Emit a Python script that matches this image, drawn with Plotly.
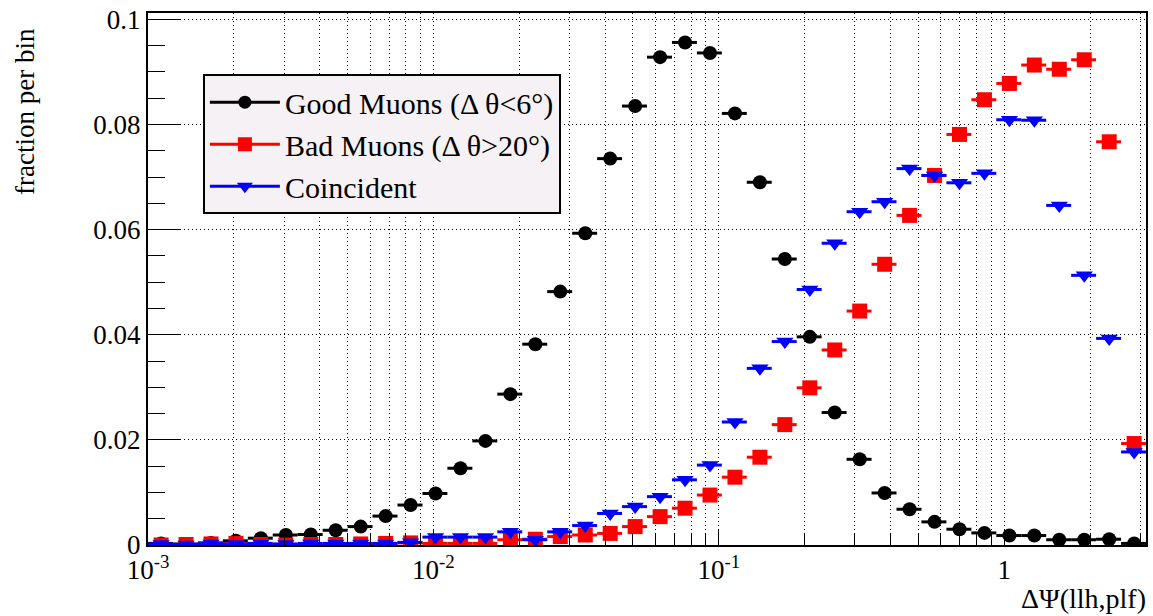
import numpy as np
import plotly.graph_objects as go

# ---- data (fraction per bin), 40 log-spaced bins from 1e-3 to pi ----
n_bins = 40
x_low_edge = 1e-3
x_high_edge = np.pi

good_muons = [0.0003, 0.0002, 0.0004, 0.0008, 0.0013, 0.0019, 0.0020, 0.0028, 0.0035, 0.0055,
              0.0076, 0.0098, 0.0146, 0.0198, 0.0287, 0.0382, 0.0482, 0.0593, 0.0735, 0.0835,
              0.0928, 0.0956, 0.0936, 0.0821, 0.0690, 0.0544, 0.0396, 0.0252, 0.0163, 0.0099,
              0.0068, 0.0044, 0.0030, 0.0023, 0.0018, 0.0018, 0.0010, 0.0010, 0.0011, 0.0003]

bad_muons = [0.0000, 0.0001, 0.0002, 0.0003, 0.0001, 0.0000, 0.0001, 0.0001, 0.0002, 0.0003,
             0.0004, 0.0003, 0.0003, 0.0003, 0.0010, 0.0011, 0.0016, 0.0019, 0.0022, 0.0035,
             0.0054, 0.0070, 0.0095, 0.0129, 0.0167, 0.0229, 0.0299, 0.0371, 0.0445, 0.0534,
             0.0627, 0.0703, 0.0781, 0.0847, 0.0878, 0.0913, 0.0905, 0.0923, 0.0767, 0.0193]

coincident = [0.0002, 0.0001, 0.0003, 0.0002, 0.0003, 0.0002, 0.0003, 0.0003, 0.0003, 0.0003,
              0.0005, 0.0015, 0.0015, 0.0015, 0.0025, 0.0010, 0.0025, 0.0037, 0.0060, 0.0073,
              0.0092, 0.0124, 0.0152, 0.0234, 0.0336, 0.0387, 0.0486, 0.0574, 0.0634, 0.0653,
              0.0716, 0.0703, 0.0689, 0.0707, 0.0809, 0.0808, 0.0646, 0.0513, 0.0393, 0.0177]

names = ["Good Muons (\u0394 \u03b8<6\u00b0)", "Bad Muons (\u0394 \u03b8>20\u00b0)", "Coincident"]

x_tick_vals = [1e-3, 1e-2, 1e-1, 1]
x_tick_text = ["10<sup>-3</sup>", "10<sup>-2</sup>", "10<sup>-1</sup>", "1"]
y_tick_vals = [0, 0.02, 0.04, 0.06, 0.08, 0.1]
y_tick_text = ["0", "0.02", "0.04", "0.06", "0.08", "0.1"]

# ---- bins ----
edges = np.logspace(np.log10(x_low_edge), np.log10(x_high_edge), n_bins + 1)
lo, hi = edges[:-1], edges[1:]
centers = 0.5 * (lo + hi)

minor_x = [m * 10.0 ** e for e in range(-3, 1) for m in range(2, 10) if m * 10.0 ** e < x_high_edge]

FONT = "Liberation Serif, Times New Roman, serif"

styles = [
    dict(color="#000000", symbol="circle", size=14),
    dict(color="#ff0000", symbol="square", size=15),
    dict(color="#0000ff", symbol="triangle-down", size=15),
]

fig = go.Figure()
for vals, st in zip([good_muons, bad_muons, coincident], styles):
    fig.add_trace(go.Scatter(
        x=centers, y=vals, mode="markers", showlegend=False,
        marker=dict(color=st["color"], symbol=st["symbol"], size=st["size"], line=dict(width=0)),
        error_x=dict(type="data", symmetric=False, array=hi - centers, arrayminus=centers - lo,
                     color=st["color"], thickness=3, width=0),
    ))

# legend entries (line + marker as in the original)
for name, st in zip(names, styles):
    fig.add_trace(go.Scatter(
        x=[None], y=[None], mode="lines+markers", name=name,
        line=dict(color=st["color"], width=3),
        marker=dict(color=st["color"], symbol=st["symbol"], size=st["size"] - 1, line=dict(width=0)),
    ))

grid_dash = "1px,3px"

fig.update_layout(
    width=1153, height=616,
    margin=dict(l=148, r=5, t=13, b=71),
    paper_bgcolor="white", plot_bgcolor="white",
    font=dict(family=FONT, size=27, color="black"),
    showlegend=True,
    legend=dict(
        x=0.055, y=0.885, xanchor="left", yanchor="top",
        bgcolor="#f6f1f4", bordercolor="black", borderwidth=2,
        font=dict(family=FONT, size=30, color="black"),
        itemwidth=70, tracegroupgap=0,
    ),
    xaxis=dict(
        type="log", range=[np.log10(x_low_edge), np.log10(x_high_edge)],
        tickmode="array", tickvals=x_tick_vals, ticktext=x_tick_text,
        ticks="inside", ticklen=16, tickwidth=1, tickcolor="black",
        showline=True, linecolor="black", linewidth=2, mirror=True,
        showgrid=True, gridcolor="black", gridwidth=1, griddash=grid_dash,
        minor=dict(tickmode="array", tickvals=minor_x, ticks="inside", ticklen=12,
                   tickcolor="black", tickwidth=1,
                   showgrid=True, gridcolor="black", gridwidth=1, griddash=grid_dash),
        zeroline=False,
        tickfont=dict(family=FONT, size=27, color="black"),
    ),
    yaxis=dict(
        range=[0, 0.1012],
        tickmode="array", tickvals=y_tick_vals, ticktext=y_tick_text,
        ticks="inside", ticklen=32, tickwidth=1, tickcolor="black",
        showline=True, linecolor="black", linewidth=2, mirror=True,
        showgrid=True, gridcolor="black", gridwidth=1, griddash=grid_dash,
        minor=dict(dtick=0.005, ticks="inside", ticklen=17, tickcolor="black", tickwidth=1,
                   showgrid=False),
        zeroline=False,
        tickfont=dict(family=FONT, size=27, color="black"),
    ),
    annotations=[
        dict(text="fraction per bin", textangle=-90, xref="paper", yref="paper",
             x=-0.123, y=0.975, xanchor="center", yanchor="top", showarrow=False,
             font=dict(family=FONT, size=27, color="black")),
        dict(text="\u0394\u03a8(llh,plf)", xref="paper", yref="paper",
             x=1.002, y=-0.100, xanchor="right", yanchor="middle", showarrow=False,
             font=dict(family=FONT, size=28, color="black")),
    ],
)

fig.write_html(
    "out.html",
    config={"displayModeBar": False},
    post_script="document.body.style.margin='0';document.body.style.padding='0';"
                "document.documentElement.style.overflow='hidden';",
)
